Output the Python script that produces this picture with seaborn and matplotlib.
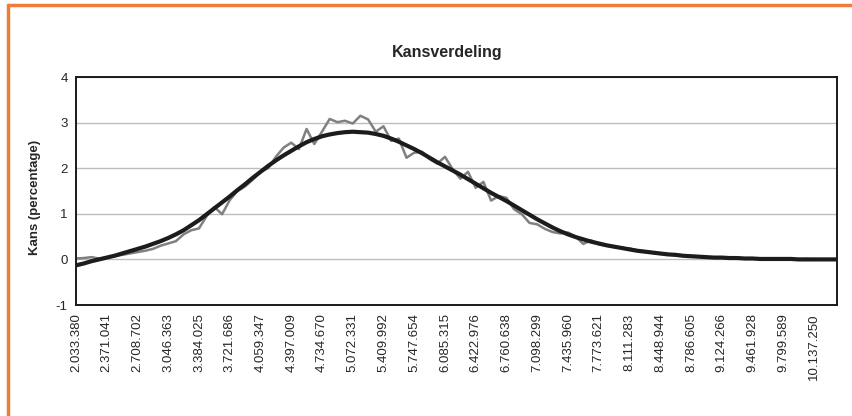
import numpy as np
import pandas as pd
import matplotlib
matplotlib.use("Agg")
import matplotlib.pyplot as plt
import seaborn as sns
from matplotlib.lines import Line2D

# waargenomen kansen (grijze lijn), per klasse
kans_gemeten = [
    0.02, 0.03, 0.05, 0.02, 0.04, 0.07, 0.10, 0.13, 0.16, 0.19,
    0.23, 0.30, 0.35, 0.40, 0.55, 0.64, 0.68, 0.95, 1.15, 0.99,
    1.30, 1.50, 1.60, 1.75, 1.92, 2.00, 2.25, 2.45, 2.56, 2.42,
    2.86, 2.53, 2.80, 3.08, 3.01, 3.04, 2.98, 3.15, 3.07, 2.80,
    2.92, 2.60, 2.65, 2.23, 2.34, 2.36, 2.20, 2.10, 2.25, 1.98,
    1.77, 1.92, 1.57, 1.70, 1.29, 1.39, 1.35, 1.10, 0.99, 0.80,
    0.77, 0.67, 0.60, 0.57, 0.59, 0.50, 0.34, 0.42, 0.33, 0.30,
    0.27, 0.25, 0.24, 0.20, 0.18, 0.14, 0.12, 0.12, 0.09, 0.08,
    0.07, 0.06, 0.05, 0.04, 0.04, 0.03, 0.03, 0.02, 0.02, 0.02,
    0.01, 0.01, 0.01, 0.01, 0.00, 0.01, 0.00, 0.00, 0.00, 0.00,
]

# trendlijn (zwarte lijn)
kans_trend = [
    -0.13, -0.09, -0.04, 0.00, 0.04, 0.08, 0.13, 0.18, 0.23, 0.28,
    0.34, 0.40, 0.47, 0.55, 0.64, 0.75, 0.86, 0.99, 1.12, 1.25,
    1.38, 1.52, 1.65, 1.79, 1.92, 2.05, 2.17, 2.28, 2.38, 2.48,
    2.57, 2.64, 2.70, 2.74, 2.77, 2.79, 2.80, 2.79, 2.78, 2.75,
    2.71, 2.65, 2.58, 2.50, 2.42, 2.33, 2.23, 2.13, 2.04, 1.95,
    1.86, 1.76, 1.66, 1.56, 1.46, 1.37, 1.28, 1.18, 1.08, 0.98,
    0.88, 0.79, 0.70, 0.62, 0.55, 0.49, 0.44, 0.39, 0.35, 0.31,
    0.28, 0.25, 0.22, 0.19, 0.17, 0.15, 0.13, 0.11, 0.10, 0.08,
    0.07, 0.06, 0.05, 0.04, 0.04, 0.03, 0.03, 0.02, 0.02, 0.01,
    0.01, 0.01, 0.01, 0.01, 0.00, 0.00, 0.00, 0.00, 0.00, 0.00,
]

x_labels = [
    "2.033.380", "2.371.041", "2.708.702", "3.046.363", "3.384.025",
    "3.721.686", "4.059.347", "4.397.009", "4.734.670", "5.072.331",
    "5.409.992", "5.747.654", "6.085.315", "6.422.976", "6.760.638",
    "7.098.299", "7.435.960", "7.773.621", "8.111.283", "8.448.944",
    "8.786.605", "9.124.266", "9.461.928", "9.799.589", "10.137.250",
]
y_ticks = [-1, 0, 1, 2, 3, 4]

sns.set_style("white")
plt.rcParams['font.family'] = ['Liberation Sans', 'DejaVu Sans']

df = pd.DataFrame({
    "klasse": np.arange(len(kans_gemeten)),
    "gemeten": kans_gemeten,
    "trend": kans_trend,
})

fig = plt.figure(figsize=(8.53, 4.16), dpi=100)
ax = fig.add_axes([0.0891, 0.2668, 0.8921, 0.5481])

sns.lineplot(data=df, x="klasse", y="gemeten", ax=ax, color="#808080", linewidth=1.8)
sns.lineplot(data=df, x="klasse", y="trend", ax=ax, color="#1c1c1c", linewidth=3.0)

ax.set_xlim(0, len(kans_gemeten) - 1)
ax.set_ylim(-1, 4)
ax.set_yticks(y_ticks)
ax.set_yticklabels([str(v) for v in y_ticks], fontsize=9.5)
ax.set_xticks(np.arange(0, len(kans_gemeten), 4))
ax.set_xticklabels(x_labels, rotation=90, fontsize=9.5)

for v in y_ticks[1:]:
    ax.axhline(v, color="#bdbdbd", linewidth=1, zorder=0)

for s in ax.spines.values():
    s.set_color("#1a1a1a")
    s.set_linewidth(1.4)
ax.tick_params(axis="both", direction="out", length=4, width=1, color="#1a1a1a", pad=2)

ax.set_xlabel("")
ax.set_ylabel("Kans (percentage)", fontsize=9.5, fontweight="bold")
ax.yaxis.set_label_coords(-0.046, 0.47)
fig.text(0.524, 0.875, "Kansverdeling", ha="center", va="center", fontsize=11.5, fontweight="bold")

# oranje kader
oranje = "#ee7d3b"
fig.add_artist(Line2D([0.0095, 1.0], [0.988, 0.988], color=oranje, linewidth=2.5, transform=fig.transFigure))
fig.add_artist(Line2D([0.0095, 0.0095], [0.0, 0.988], color=oranje, linewidth=2.5, transform=fig.transFigure))

fig.savefig("out.png", dpi=100)
